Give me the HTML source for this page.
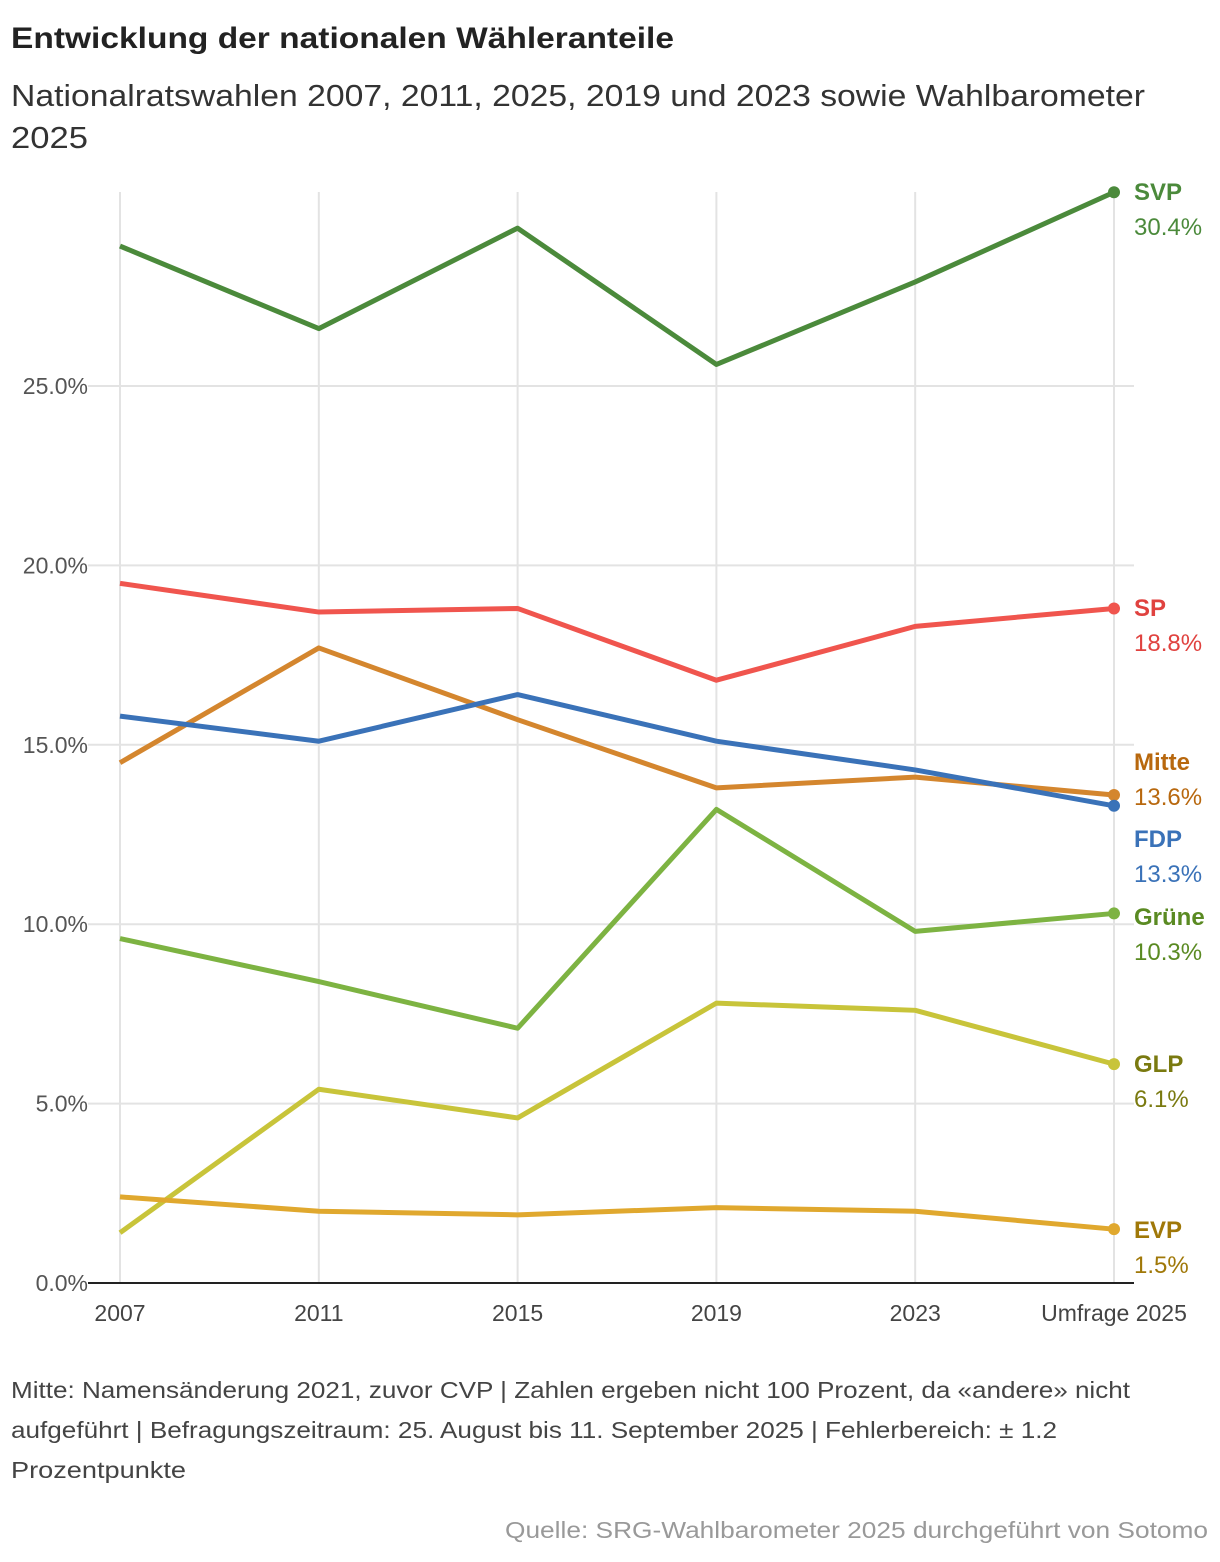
<!DOCTYPE html>
<html><head><meta charset="utf-8"><style>
body{margin:0;background:#fff;font-family:"Liberation Sans",sans-serif;}
svg{display:block}
</style></head><body>
<svg id="c" width="1220" height="1562" xmlns="http://www.w3.org/2000/svg">
<text x="11" y="48" font-size="30" font-weight="bold" fill="#222" textLength="663" lengthAdjust="spacingAndGlyphs">Entwicklung der nationalen Wähleranteile</text>
<text x="11" y="106" font-size="31" fill="#333" textLength="1134" lengthAdjust="spacingAndGlyphs">Nationalratswahlen 2007, 2011, 2025, 2019 und 2023 sowie Wahlbarometer</text>
<text x="11" y="148" font-size="31" fill="#333" textLength="77" lengthAdjust="spacingAndGlyphs">2025</text>
<g id="grid"></g><g id="lines"></g><g id="labels"></g>
<text x="11" y="1398" font-size="23" fill="#444" textLength="1119" lengthAdjust="spacingAndGlyphs">Mitte: Namensänderung 2021, zuvor CVP | Zahlen ergeben nicht 100 Prozent, da «andere» nicht</text>
<text x="11" y="1438" font-size="23" fill="#444" textLength="1046" lengthAdjust="spacingAndGlyphs">aufgeführt | Befragungszeitraum: 25. August bis 11. September 2025 | Fehlerbereich: ± 1.2</text>
<text x="11" y="1478" font-size="23" fill="#444" textLength="175" lengthAdjust="spacingAndGlyphs">Prozentpunkte</text>
<text x="505" y="1538" font-size="23" fill="#999" textLength="703" lengthAdjust="spacingAndGlyphs">Quelle: SRG-Wahlbarometer 2025 durchgeführt von Sotomo</text>
</svg>
<script>
const categories=["2007","2011","2015","2019","2023","Umfrage 2025"];
const yTicks=[0,5,10,15,20,25];
const parties=["SVP","SP","Mitte","FDP","Grüne","GLP","EVP"];
const svp=[28.9,26.6,29.4,25.6,27.9,30.4];
const sp=[19.5,18.7,18.8,16.8,18.3,18.8];
const mitte=[14.5,17.7,15.7,13.8,14.1,13.6];
const fdp=[15.8,15.1,16.4,15.1,14.3,13.3];
const gruene=[9.6,8.4,7.1,13.2,9.8,10.3];
const glp=[1.4,5.4,4.6,7.8,7.6,6.1];
const evp=[2.4,2.0,1.9,2.1,2.0,1.5];
const series=[svp,sp,mitte,fdp,gruene,glp,evp];
const lineColors=["#4b8a3b","#f0554e","#d4862e","#3a72b8","#7db342","#c8c43a","#e0a82e"];
const labelColors=["#4b8a3b","#e0423f","#b8680e","#3a72b8","#5a8a22","#7a7a10","#a07808"];
const labelY=[192,608,762,839,917,1064,1230];
const NS="http://www.w3.org/2000/svg";
const x=i=>120+i*198.8;
const y=v=>1283-v*35.88;
function mk(p,t,a){const e=document.createElementNS(NS,t);for(const k in a)e.setAttribute(k,a[k]);p.appendChild(e);return e;}
const grid=document.getElementById('grid'),lines=document.getElementById('lines'),labels=document.getElementById('labels');
categories.forEach((c,i)=>{
 const l=mk(grid,'line',{x1:x(i),x2:x(i),y1:192,y2:1283,stroke:'#e3e3e3','stroke-width':2});
 
 
 const t=mk(grid,'text',{x:x(i),y:1321,'font-size':23,fill:'#444','text-anchor':'middle'});
 t.textContent=c;
 
 
});
yTicks.forEach(v=>{
 const l=mk(grid,'line',{x1:88,x2:1134,y1:y(v),y2:y(v),stroke:v==0?'#222':'#e3e3e3','stroke-width':2});
 
 
 const t=mk(grid,'text',{x:88,y:y(v)+8,'font-size':23,fill:'#555','text-anchor':'end'});
 t.textContent=v.toFixed(1)+'%';
 
 
});
series.forEach((s,k)=>{
 const p=mk(lines,'polyline',{points:s.map((v,i)=>x(i)+','+y(v)).join(' '),fill:'none',stroke:lineColors[k],'stroke-width':5,'stroke-linejoin':'round'});
 
 
 const d=mk(lines,'circle',{cx:x(5),cy:y(s[5]),r:6,fill:lineColors[k]});
 
 
 const t1=mk(labels,'text',{x:1134,y:labelY[k]+8,'font-size':24,'font-weight':'bold',fill:labelColors[k]});
 t1.textContent=parties[k];
 
 
 const t2=mk(labels,'text',{x:1134,y:labelY[k]+43,'font-size':24,fill:labelColors[k]});
 t2.textContent=s[5].toFixed(1)+'%';
 
 
});
</script>
</body></html>
